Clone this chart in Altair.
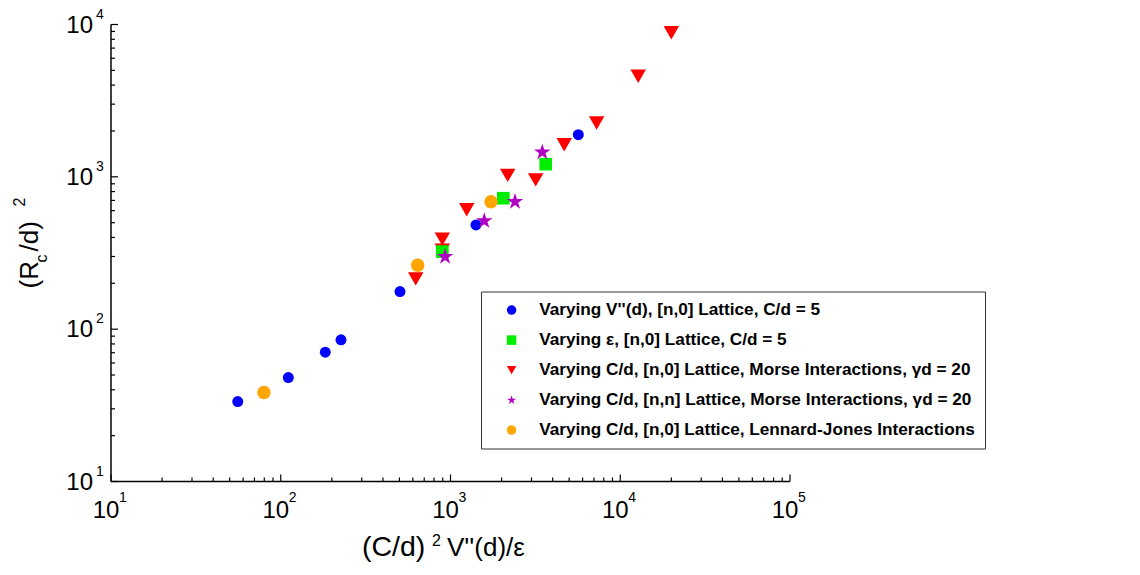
import altair as alt
import pandas as pd

# ---------------- data ----------------
SERIES = [
    "Varying V''(d), [n,0] Lattice, C/d = 5",
    "Varying ε, [n,0] Lattice, C/d = 5",
    "Varying C/d, [n,0] Lattice, Morse Interactions, γd = 20",
    "Varying C/d, [n,n] Lattice, Morse Interactions, γd = 20",
    "Varying C/d, [n,0] Lattice, Lennard-Jones Interactions",
]
COLORS = ["#0000ff", "#00ee00", "#ff0000", "#b000c4", "#ffa500"]

blue_x = [55.8, 110.8, 183, 226.5, 504, 895, 1413, 5662]
blue_y = [33.5, 48.1, 70.6, 85.1, 176.5, 336, 483, 1892]
green_x = [895, 2047, 3639]
green_y = [323, 724, 1211]
red_x = [624, 895, 895, 1246, 2173, 3176, 4677, 7261, 12760, 20000]
red_y = [214, 390, 330, 608, 1022, 955, 1625, 2256, 4570, 8830]
star_x = [929, 1581, 2399, 3474]
star_y = [299, 514, 687, 1449]
orange_x = [79.6, 641, 1732]
orange_y = [38.4, 263, 687]

x_major = [10, 100, 1000, 10000, 100000]
x_exp = ["1", "2", "3", "4", "5"]
y_major = [10, 100, 1000, 10000]
y_exp = ["1", "2", "3", "4"]
x_minor = [m * 10 ** k for k in range(1, 5) for m in range(2, 10)]
y_minor = [m * 10 ** k for k in range(1, 4) for m in range(2, 10)]

STAR = ("M0,-1L0.2245,-0.309L0.9511,-0.309L0.3633,0.118L0.5878,0.809L0,0.382"
        "L-0.5878,0.809L-0.3633,0.118L-0.9511,-0.309L-0.2245,-0.309Z")
SHAPES = ["circle", "square", "triangle-down", STAR, "circle"]
SIZES = [120, 160, 240, 300, 180]

# draw order: blue, red, green, star, orange
rows = []
for s_idx, xs, ys in [(0, blue_x, blue_y), (2, red_x, red_y), (1, green_x, green_y),
                      (3, star_x, star_y), (4, orange_x, orange_y)]:
    for xv, yv in zip(xs, ys):
        rows.append({"x": xv, "y": yv, "series": SERIES[s_idx], "sz": SIZES[s_idx]})
pts = pd.DataFrame(rows)

W, H = 679, 457
FONT = "Liberation Sans"

xscale = alt.Scale(type="log", domain=[10, 100000], nice=False)
yscale = alt.Scale(type="log", domain=[10, 10000], nice=False)

points = alt.Chart(pts).mark_point(filled=True, opacity=1, strokeWidth=0).encode(
    x=alt.X("x:Q", scale=xscale, axis=None),
    y=alt.Y("y:Q", scale=yscale, axis=None),
    color=alt.Color("series:N", scale=alt.Scale(domain=SERIES, range=COLORS),
                    legend=alt.Legend(title=None, orient="none", legendX=370, legendY=267,
                                      padding=10, strokeColor="#333", fillColor="white",
                                      labelFont=FONT, labelFontSize=17.2, labelFontWeight="bold",
                                      labelColor="black", labelLimit=700, symbolSize=90,
                                      rowPadding=12, labelOffset=19, symbolOffset=12)),
    shape=alt.Shape("series:N", scale=alt.Scale(domain=SERIES, range=SHAPES)),
    size=alt.Size("sz:Q", scale=None, legend=None),
    order=alt.Order("idx:Q"),
).transform_window(idx="row_number()")

xmaj = pd.DataFrame({"v": x_major, "e": x_exp})
ymaj = pd.DataFrame({"v": y_major, "e": y_exp})
xmin = pd.DataFrame({"v": x_minor})
ymin = pd.DataFrame({"v": y_minor})
one = pd.DataFrame({"k": [0]})

x_domain = alt.Chart(one).mark_rule(color="black", strokeWidth=1.5).encode(
    x=alt.value(0), x2=alt.value(W), y=alt.value(H))
y_domain = alt.Chart(one).mark_rule(color="black", strokeWidth=1.5).encode(
    x=alt.value(0), y=alt.value(0), y2=alt.value(H))

xt_major = alt.Chart(xmaj).mark_rule(color="black", strokeWidth=1.2).encode(
    x=alt.X("v:Q", scale=xscale, axis=None), y=alt.value(H), y2=alt.value(H - 7))
xt_minor = alt.Chart(xmin).mark_rule(color="black", strokeWidth=1.2).encode(
    x=alt.X("v:Q", scale=xscale, axis=None), y=alt.value(H), y2=alt.value(H - 4))
yt_major = alt.Chart(ymaj).mark_rule(color="black", strokeWidth=1.2).encode(
    y=alt.Y("v:Q", scale=yscale, axis=None), x=alt.value(0), x2=alt.value(7))
yt_minor = alt.Chart(ymin).mark_rule(color="black", strokeWidth=1.2).encode(
    y=alt.Y("v:Q", scale=yscale, axis=None), x=alt.value(0), x2=alt.value(4))

xl_base = alt.Chart(xmaj).mark_text(font=FONT, fontSize=24, align="center", baseline="middle",
                                    dx=-5, color="black").encode(
    x=alt.X("v:Q", scale=xscale, axis=None), y=alt.value(H + 29), text=alt.value("10"))
xl_exp = alt.Chart(xmaj).mark_text(font=FONT, fontSize=14, align="left", baseline="middle",
                                   dx=8, color="black").encode(
    x=alt.X("v:Q", scale=xscale, axis=None), y=alt.value(H + 16), text="e:N")
yl_base = alt.Chart(ymaj).mark_text(font=FONT, fontSize=24, align="right", baseline="middle",
                                    dy=1, color="black").encode(
    y=alt.Y("v:Q", scale=yscale, axis=None), x=alt.value(-18), text=alt.value("10"))
yl_exp = alt.Chart(ymaj).mark_text(font=FONT, fontSize=14, align="left", baseline="middle",
                                   dy=-10, color="black").encode(
    y=alt.Y("v:Q", scale=yscale, axis=None), x=alt.value(-15), text="e:N")

# axis titles with sub/superscripts
def txt(s, x, y, size, angle=0):
    return alt.Chart(pd.DataFrame({"t": [s]})).mark_text(
        font=FONT, fontSize=size, align="left", baseline="alphabetic", angle=angle,
        color="black").encode(x=alt.value(x), y=alt.value(y), text="t:N")

titles = [
    txt("(C/d)", 251, 531, 28.5),
    txt("2", 321, 521, 16),
    txt("V''(d)/ε", 336, 531, 26),
    txt("(R", -73, 264, 26, 270),
    txt("c", -64, 238, 16, 270),
    txt("/d)", -73, 227, 26, 270),
    txt("2", -86, 182, 16, 270),
]

chart = alt.layer(points, x_domain, y_domain, xt_major, xt_minor, yt_major, yt_minor,
                  xl_base, xl_exp, yl_base, yl_exp, *titles).properties(
    width=W, height=H, background="white",
    autosize=alt.AutoSizeParams(type="none"),
    padding={"left": 111, "top": 24.5, "right": 1140 - 111 - W, "bottom": 575 - 24.5 - H},
).configure_view(strokeWidth=0)

chart.save("out.html", embed_options={"renderer": "svg", "actions": False})
